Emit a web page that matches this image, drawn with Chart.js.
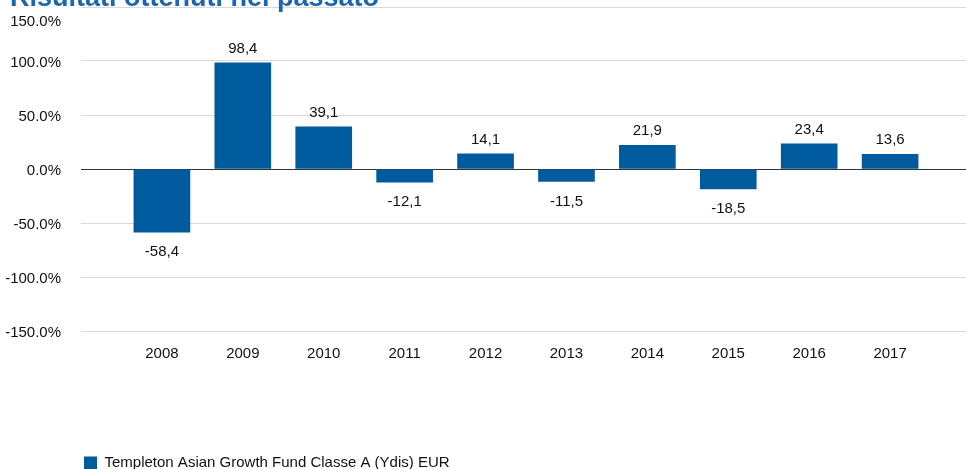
<!DOCTYPE html>
<html>
<head>
<meta charset="utf-8">
<script src="https://cdn.jsdelivr.net/npm/chart.js@4/dist/chart.umd.min.js"></script>
<style>
  html, body { margin: 0; padding: 0; background: #fff; }
  #wrap { width: 966px; height: 469px; overflow: hidden; position: relative; }
  canvas { display: block; }
</style>
</head>
<body>
<div id="wrap"><canvas id="perf" width="980" height="469"></canvas></div>
<script>
// Rendimenti annuali (%), categorie vuote ai bordi per il margine dell'asse
const years = ['', '2008', '2009', '2010', '2011', '2012', '2013', '2014', '2015', '2016', '2017', ''];
const returns = [null, -58.4, 98.4, 39.1, -12.1, 14.1, -11.5, 21.9, -18.5, 23.4, 13.6, null];
const yTicks = [-150, -100, -50, 0, 50, 100, 150];
const seriesName = 'Templeton Asian Growth Fund Classe A (Ydis) EUR';
const chartTitle = 'Risultati ottenuti nel passato';

const FONT = "'Liberation Sans', Arial, sans-serif";
const BLUE = '#005b9e';

// titolo (tagliato in alto come nell'originale)
const titlePlugin = {
  id: 'clippedTitle',
  afterDraw(chart) {
    const ctx = chart.ctx;
    ctx.save();
    ctx.font = 'bold 27px ' + FONT;
    ctx.fillStyle = '#1c66ad';
    ctx.textAlign = 'left';
    ctx.textBaseline = 'alphabetic';
    ctx.fillText(chartTitle, 10, 6);
    ctx.restore();
  }
};

// etichette dei valori sopra / sotto le barre
const valueLabels = {
  id: 'valueLabels',
  afterDatasetsDraw(chart) {
    const ctx = chart.ctx;
    const meta = chart.getDatasetMeta(0);
    ctx.save();
    ctx.font = '15px ' + FONT;
    ctx.fillStyle = '#111';
    ctx.textAlign = 'center';
    ctx.textBaseline = 'middle';
    meta.data.forEach((bar, i) => {
      const v = returns[i];
      if (v === null) return;
      const txt = v.toFixed(1).replace('.', ',');
      const y = v >= 0 ? bar.y - 14 : bar.y + 20;
      ctx.fillText(txt, bar.x, y);
    });
    ctx.restore();
  }
};

new Chart(document.getElementById('perf'), {
  type: 'bar',
  data: {
    labels: years,
    datasets: [{
      label: seriesName,
      data: returns,
      backgroundColor: BLUE,
      borderWidth: 0,
      barThickness: 56
    }]
  },
  options: {
    responsive: false,
    animation: false,
    layout: { padding: { left: 0, right: 9, top: 7, bottom: 0 } },
    plugins: {
      tooltip: { enabled: false },
      title: { display: false },
      legend: {
        position: 'bottom',
        align: 'start',
        fullSize: false,
        maxHeight: 16.5,
        labels: {
          boxWidth: 13, boxHeight: 13, padding: 3,
          color: '#111',
          font: { family: FONT, size: 15 }
        }
      }
    },
    scales: {
      x: {
        offset: false,
        grid: { display: false },
        border: { display: false },
        ticks: { color: '#111', padding: 6, autoSkip: false, maxRotation: 0, font: { family: FONT, size: 15 } },
        afterFit(scale) {
          scale.height = 121.5;
          scale.paddingLeft = 0;
          scale.paddingRight = 0;
        }
      },
      y: {
        min: -150, max: 150,
        afterBuildTicks(scale) { scale.ticks = yTicks.map(v => ({ value: v })); },
        grid: {
          drawTicks: false,
          color: ctx => ctx.tick && ctx.tick.value === 0 ? '#333' : '#d9d9d9',
          lineWidth: 1
        },
        border: { display: false },
        ticks: {
          color: '#111',
          padding: 20,
          labelOffset: 2,
          autoSkip: false,
          font: { family: FONT, size: 15, lineHeight: 1.7 },
          callback: v => v === 150 ? ['', v.toFixed(1) + '%'] : v.toFixed(1) + '%'
        },
        afterFit(scale) {
          scale.width = 81;
          scale.paddingTop = 0;
          scale.paddingBottom = 0;
        }
      }
    }
  },
  plugins: [titlePlugin, valueLabels]
});
</script>
</body>
</html>
